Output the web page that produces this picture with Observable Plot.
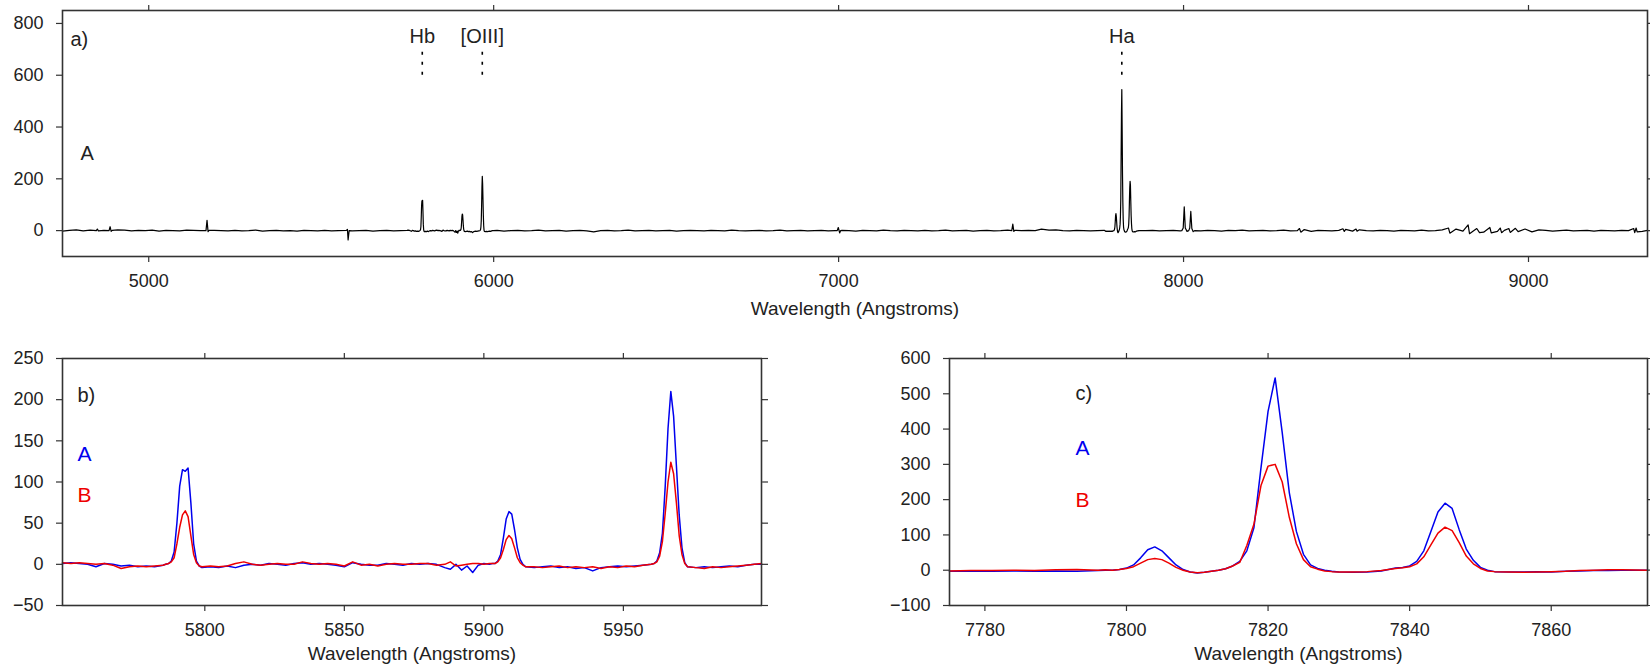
<!DOCTYPE html>
<html><head><meta charset="utf-8">
<script src="https://cdn.jsdelivr.net/npm/d3@7"></script>
<script src="https://cdn.jsdelivr.net/npm/@observablehq/plot@0.6"></script>
<style>
html,body{margin:0;padding:0;background:#fff;}
#wrap{position:relative;width:1650px;height:670px;overflow:hidden;background:#fff;}
</style></head><body><div id="wrap"></div>
<script>
// ---------- Panel a: full spectrum of A (coarse continuum samples + features) ----------
const baseStart = 4750, baseStep = 20, baseEnd = 9345;
const baseFlux = [
  -2, 1, 3, -1, 2, 4, 1, 0, 3, 2, -1, 1, 0, 2, -2, 1, 0, -1, 2, 1, 0, -2, 1, 0, -1,
  1, -1, 0, 2, -2, 0, 1, -1, 0, -2, 1, 0, -1, 1, -1, 0, 2, -1, 0, 1, -2, 0, 1, -1, 0,
  1, 0, -2, 1, 0, -1, 0, 1, -1, 0, 1, -2, -1, 1, -2, 0, 1, -1, 0, 2, -1, 0, 1, -2, 0,
  1, -1, -5, 0, 1, -1, 0, 2, -1, 0, 1, -1, 0, 1, -2, 0, 1, 0, -1, 1, 0, -1, 2, 0, -1,
  0, 1, -1, 0, 2, -1, 0, 1, -1, 0, 1, -1, 0, 1, 0, -2, 1, 0, -1, 2, 0, -1, 1, 0, -1,
  1, -1, 0, 2, -1, 0, 1, -2, 0, 1, -1, 0, 2, -1, 0, 1, 0, -1, 2, 3, 0, -1, 1, 0, -1,
  0, 1, -1, 0, 1, -1, -2, 0, 1, -1, 0, 1, -1, 2, 0, -1, 1, 0, -2, 1, 0, 2, -1, 0, 1,
  -1, 0, 2, -1, 0, 4, -3, 1, 0, -1, 1, 5, -2, 3, 0, -1, 1, 0, -2, 1, 0, -1, 2, -1, 0,
  3, -4, 6, -2, 1, 8, -6, 4, -3, 1, 5, -4, 6, -5, 3, 1, -2, 0, 2, -1, 0, 1, -2, 1, 0,
  -1, 1, 0, 2, -3, 1
];
const featWave = [4848, 4851, 4854, 4885, 4888, 4891, 4894, 5166, 5169, 5172, 5175,
  5573, 5576, 5578, 5581, 6996, 6999, 7003, 7006, 7502, 7505, 7508, 7511, 7588,
  7995, 7999, 8002, 8005, 8010, 8015, 8018, 8021, 8024, 8028, 8032,
  8336, 8340, 8462, 8466, 8500, 8503, 8768, 8772, 8825, 8829, 8858, 8888, 8892,
  8918, 8922, 8943, 8947, 8962, 9305, 9308, 9312, 9315];
const featFlux = [0, 6, -1, 0, 15, -3, 1, 0, 40, -4, 1,
  1, 5, -36, 0, 0, 12, -9, 0, 0, 25, -3, 1, 6,
  0, 10, 92, 10, -3, 0, 10, 74, 8, -4, 0,
  8, -6, 7, -3, 6, -2, 10, -10, 22, -12, -8, 12, -9,
  10, -8, 8, -7, 9, 8, -8, 10, -5];

const lineNames = ["Hb", "[OIII]", "Ha"];
const lineWaves = [5793, 5967, 7821];
const lineLabelLevel = 750, lineMarkTop = 690, lineMarkBottom = 600;

// ---------- Panel b: 5750-6000 A ----------
const waveB = [
  5749, 5752, 5755, 5758, 5761, 5764, 5767, 5770, 5773, 5776,
  5779, 5782, 5785, 5786, 5787, 5788, 5789, 5790, 5791, 5792,
  5793, 5794, 5795, 5796, 5797, 5798, 5799, 5802, 5805, 5808,
  5811, 5814, 5817, 5820, 5823, 5826, 5829, 5832, 5835, 5838,
  5841, 5844, 5847, 5850, 5853, 5856, 5859, 5862, 5865, 5868,
  5871, 5874, 5877, 5880, 5883, 5886, 5888, 5890, 5892, 5894,
  5896, 5898, 5900, 5902, 5903, 5904, 5905, 5906, 5907, 5908,
  5909, 5910, 5911, 5912, 5913, 5914, 5915, 5918, 5921, 5924,
  5927, 5930, 5933, 5936, 5939, 5942, 5945, 5948, 5951, 5954,
  5957, 5960, 5961, 5962, 5963, 5964, 5965, 5966, 5967, 5968,
  5969, 5970, 5971, 5972, 5973, 5976, 5979, 5982, 5985, 5988,
  5991, 5994, 5997, 5999.5];
const fluxA_b = [
  1, 2, 1, 0, -3, 1, 0, -2, -1, -3,
  -2, -3, -1, 0, 1, 4, 15, 50, 95, 115,
  113, 117, 75, 25, 4, -2, -4, -3, -4, -2,
  -4, -1, 0, -1, 1, 0, -1, 1, 2, 0,
  1, 0, -1, -3, 2, 0, -1, -1, 1, 0,
  -1, 1, 0, 1, 0, -4, -6, 0, -7, -2,
  -10, -1, 1, 0, 1, 1, 4, 12, 32, 55,
  64, 61, 42, 20, 6, 0, -3, -4, -3, -2,
  -4, -3, -5, -4, -8, -4, -3, -2, -3, -2,
  -1, 0, 1, 4, 14, 38, 95, 165, 210, 180,
  120, 60, 20, 2, -3, -4, -3, -4, -3, -2,
  -3, -1, 0, 0];
const fluxB_b = [
  2, 1, 2, 1, 0, 1, -1, -5, -3, -2,
  -3, -2, -1, 0, 1, 3, 8, 25, 45, 60,
  65, 58, 35, 12, 2, -2, -3, -2, -3, -2,
  1, 3, 0, -1, 0, 1, 0, 0, 3, 1,
  0, 1, 0, -2, 3, -1, 0, -2, 0, 1,
  0, 0, 1, 1, -1, 0, 3, -2, -1, 0,
  1, 1, 0, 1, 1, 1, 3, 8, 18, 30,
  35, 31, 20, 8, 2, -1, -3, -3, -4, -3,
  -2, -4, -3, -4, -3, -5, -3, -4, -2, -3,
  -1, 0, 1, 3, 10, 28, 62, 100, 124, 110,
  75, 35, 12, 1, -3, -4, -5, -3, -4, -3,
  -2, -1, 0, 1];

// ---------- Panel c: 7775-7874 ----------
const waveC = [
  7775, 7778, 7781, 7784, 7787, 7790, 7793, 7796, 7797, 7798,
  7799, 7800, 7801, 7802, 7803, 7804, 7805, 7806, 7807, 7808,
  7809, 7810, 7811, 7812, 7813, 7814, 7815, 7816, 7817, 7818,
  7819, 7820, 7821, 7822, 7823, 7824, 7825, 7826, 7827, 7828,
  7829, 7830, 7832, 7834, 7836, 7837, 7838, 7839, 7840, 7841,
  7842, 7843, 7844, 7845, 7846, 7847, 7848, 7849, 7850, 7851,
  7852, 7854, 7856, 7858, 7860, 7862, 7864, 7866, 7868, 7870,
  7873.6];
const fluxA_c = [
  -3, -2, -3, -2, -3, -2, -3, -1, 0, 0,
  2, 6, 15, 35, 58, 66, 55, 35, 15, 2,
  -5, -8, -6, -3, 0, 4, 12, 25, 55, 120,
  290, 450, 545, 390, 220, 110, 45, 15, 5, 0,
  -3, -5, -6, -5, -2, 2, 6, 8, 12, 25,
  55, 110, 165, 190, 175, 115, 60, 28, 8, 0,
  -4, -5, -5, -4, -5, -3, -2, -1, -1, 0,
  0];
const fluxB_c = [
  -2, -1, -1, 0, -1, 1, 2, 0, 1, 0,
  2, 5, 10, 20, 30, 33, 30, 20, 8, 0,
  -5, -7, -6, -3, 0, 4, 12, 22, 70, 130,
  240, 295, 300, 250, 150, 75, 30, 10, 3, -2,
  -4, -5, -5, -4, -1, 2, 5, 7, 10, 18,
  38, 72, 105, 122, 112, 78, 40, 18, 5, -2,
  -4, -5, -6, -5, -4, -3, -1, 0, 1, 1,
  0];

// ---------- axis ticks ----------
const ticksAx = [5000, 6000, 7000, 8000, 9000];
const ticksAy = [0, 200, 400, 600, 800];
const ticksBx = [5800, 5850, 5900, 5950];
const ticksBy = [-50, 0, 50, 100, 150, 200, 250];
const ticksCx = [7780, 7800, 7820, 7840, 7860];
const ticksCy = [-100, 0, 100, 200, 300, 400, 500, 600];
const xLabel = "Wavelength (Angstroms)";

// ---------- build panel-a spectrum ----------
const inZoom = w => (w >= waveB[0] && w <= waveB[waveB.length - 1]) || (w >= waveC[0] && w <= waveC[waveC.length - 1]);
const baseWave = d3.range(baseStart, baseEnd - 14, baseStep).concat([baseEnd]);
const specA = [];
baseWave.forEach((w, i) => {
  if (inZoom(w)) return;
  if (featWave.some(f => Math.abs(f - w) < 4)) return;
  specA.push({w, f: baseFlux[i]});
});
featWave.forEach((w, i) => specA.push({w, f: featFlux[i]}));
waveB.forEach((w, i) => specA.push({w, f: fluxA_b[i]}));
waveC.forEach((w, i) => specA.push({w, f: fluxA_c[i]}));
specA.sort((a, b) => a.w - b.w);

const serB = waveB.map((w, i) => ({w, a: fluxA_b[i], b: fluxB_b[i]}));
const serC = waveC.map((w, i) => ({w, a: fluxA_c[i], b: fluxB_c[i]}));

// ---------- helpers ----------
const fmt = d => (d < 0 ? "\u2212" + Math.abs(d) : String(d));
const FONT = "'Liberation Sans', Arial, Helvetica, sans-serif";
function frameAxes(xt, yt) {
  return [
    Plot.axisX({anchor: "bottom", ticks: xt, tickSize: 6, tickPadding: 12, tickFormat: fmt, label: null, stroke: "#333", strokeWidth: 1.2}),
    Plot.axisX({anchor: "top", ticks: xt, tickSize: 6, tickFormat: () => "", label: null, stroke: "#333", strokeWidth: 1.2}),
    Plot.axisY({anchor: "left", ticks: yt, tickSize: 6, tickPadding: 13, tickFormat: fmt, label: null, stroke: "#333", strokeWidth: 1.2}),
    Plot.axisY({anchor: "right", ticks: yt, tickSize: 6, tickFormat: () => "", label: null, stroke: "#333", strokeWidth: 1.2}),
    Plot.frame({stroke: "#333", strokeWidth: 1.6})
  ];
}
function note(txt, dx, dy, color, size) {
  return Plot.text([txt], {text: d => d, frameAnchor: "top-left", dx, dy, textAnchor: "start", lineAnchor: "middle", fill: color, fontSize: size});
}
function place(svg, left, top) {
  svg.style.position = "absolute";
  svg.style.left = left + "px";
  svg.style.top = top + "px";
  document.getElementById("wrap").appendChild(svg);
}
const baseStyle = {fontFamily: FONT, fontSize: "18px", color: "#222", background: "transparent", overflow: "visible"};

// ---------- panel a ----------
const pa = Plot.plot({
  width: 1650, height: 330,
  marginLeft: 62, marginRight: 3, marginTop: 10, marginBottom: 74,
  style: baseStyle,
  x: {domain: [4750, 9345], label: null},
  y: {domain: [-100, 850], label: null},
  marks: [
    Plot.line(specA, {x: "w", y: "f", stroke: "black", strokeWidth: 1.2}),
    Plot.ruleX(lineWaves, {x: d => d, y1: () => lineMarkBottom, y2: () => lineMarkTop, stroke: "black", strokeWidth: 1.6, strokeDasharray: "3,7"}),
    Plot.text(lineWaves, {x: d => d, y: () => lineLabelLevel, text: (d, i) => lineNames[i], fontSize: 20, fill: "#222"}),
    note("a)", 8, 29, "#222", 20),
    note("A", 18, 143, "#222", 20),
    Plot.text([xLabel], {text: d => d, frameAnchor: "bottom", dy: 52, lineAnchor: "middle", fontSize: 19, fill: "#222"}),
    ...frameAxes(ticksAx, ticksAy)
  ]
});
place(pa, 0, 0);

// ---------- panel b ----------
const pb = Plot.plot({
  width: 762, height: 340,
  marginLeft: 62, marginRight: 1, marginTop: 28, marginBottom: 65,
  style: baseStyle,
  x: {domain: [5749, 5999.5], label: null},
  y: {domain: [-50, 250], label: null},
  marks: [
    Plot.line(serB, {x: "w", y: "a", stroke: "#0000ee", strokeWidth: 1.5}),
    Plot.line(serB, {x: "w", y: "b", stroke: "#ee0000", strokeWidth: 1.5}),
    note("b)", 15, 37, "#222", 20),
    note("A", 15, 96, "#0000ee", 21),
    note("B", 15, 137, "#ee0000", 21),
    Plot.text([xLabel], {text: d => d, frameAnchor: "bottom", dy: 48, lineAnchor: "middle", fontSize: 19, fill: "#222"}),
    ...frameAxes(ticksBx, ticksBy)
  ]
});
place(pb, 0, 330);

// ---------- panel c ----------
const pc = Plot.plot({
  width: 770, height: 340,
  marginLeft: 69, marginRight: 3, marginTop: 28, marginBottom: 65,
  style: baseStyle,
  x: {domain: [7775, 7873.6], label: null},
  y: {domain: [-100, 600], label: null},
  marks: [
    Plot.line(serC, {x: "w", y: "a", stroke: "#0000ee", strokeWidth: 1.5}),
    Plot.line(serC, {x: "w", y: "b", stroke: "#ee0000", strokeWidth: 1.5}),
    note("c)", 126, 35, "#222", 20),
    note("A", 126, 90, "#0000ee", 21),
    note("B", 126, 142, "#ee0000", 21),
    Plot.text([xLabel], {text: d => d, frameAnchor: "bottom", dy: 48, lineAnchor: "middle", fontSize: 19, fill: "#222"}),
    ...frameAxes(ticksCx, ticksCy)
  ]
});
place(pc, 880, 330);
</script></body></html>
